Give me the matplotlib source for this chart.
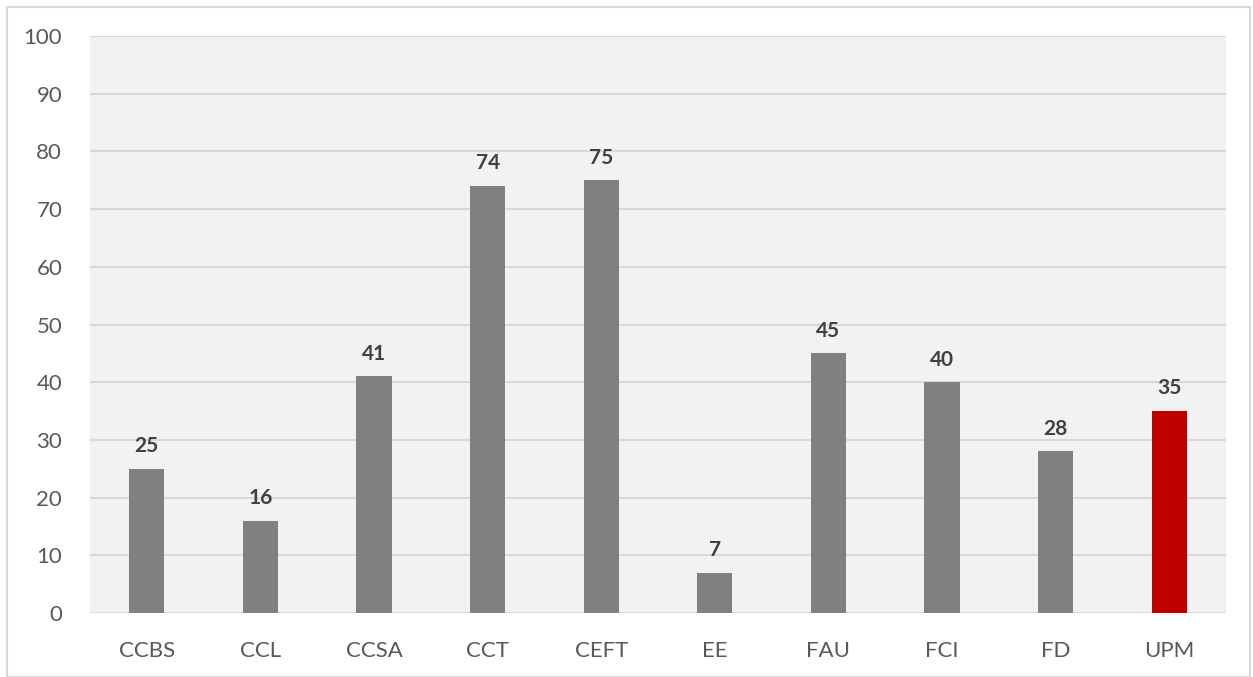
import matplotlib
matplotlib.use("Agg")
import matplotlib.pyplot as plt
from matplotlib.patches import Rectangle

categories = ["CCBS", "CCL", "CCSA", "CCT", "CEFT", "EE", "FAU", "FCI", "FD", "UPM"]
values = [25, 16, 41, 74, 75, 7, 45, 40, 28, 35]
colors = ["#808080"] * 9 + ["#C00000"]
yticks = list(range(0, 101, 10))

plt.rcParams['font.family'] = ['Lato', 'DejaVu Sans']

W, H = 1253, 677
fig = plt.figure(figsize=(W / 100, H / 100), dpi=100)
fig.patch.set_facecolor("white")
fig.patches.append(Rectangle((7 / W, 0), 1 - 10 / W, 1 - 7 / H, transform=fig.transFigure,
                             fill=False, edgecolor="#D9D9D9", linewidth=1.5))

ax = fig.add_axes([90 / W, 1 - 613 / H, (1226 - 90) / W, (613 - 36) / H])
ax.set_facecolor("#F2F2F2")
x = range(len(categories))
bars = ax.bar(x, values, width=0.31, color=colors, zorder=3)
for xi, v in zip(x, values):
    ax.text(xi, v + 2.2, str(v), ha="center", va="bottom", fontsize=15, fontweight="bold",
            color="#404040")
ax.set_ylim(0, 100)
ax.set_xlim(-0.5, len(categories) - 0.5)
ax.set_yticks(yticks)
ax.set_xticks(list(x))
ax.set_xticklabels(categories)
ax.yaxis.grid(True, color="#D9D9D9", linewidth=1.5, zorder=0)
ax.set_axisbelow(True)
for s in ax.spines.values():
    s.set_visible(False)
ax.tick_params(axis="both", length=0, labelsize=16, labelcolor="#595959")
ax.tick_params(axis="y", pad=20)
ax.tick_params(axis="x", pad=20)
fig.savefig("out.png", dpi=100)
